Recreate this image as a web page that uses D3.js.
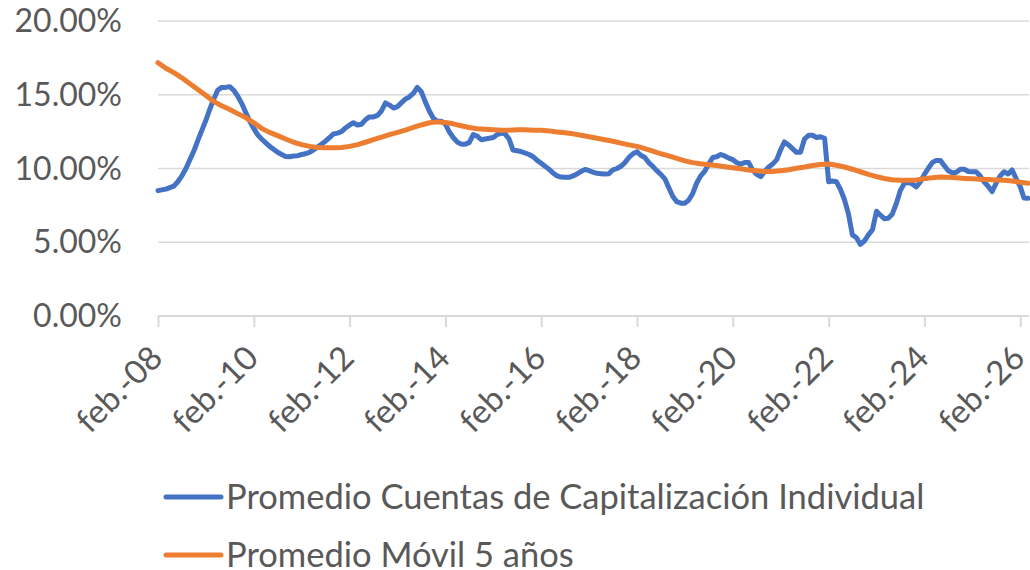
<!DOCTYPE html>
<html><head><meta charset="utf-8">
<script src="https://cdn.jsdelivr.net/npm/d3@7"></script>
<style>
body{margin:0;background:#fff}
svg{display:block}
text{font-family:Lato, "Open Sans", sans-serif; fill:#595959}
</style>
</head><body>
<svg id="chart" width="1030" height="570"></svg>
<script>
// ---- data ----
const seriesNames = ["Promedio Cuentas de Capitalización Individual", "Promedio Móvil 5 años"];
const seriesColors = ["#4472C4", "#ED7D31"];
// monthly values (%), from feb-08
const cuentas = [
  8.5, 8.55, 8.6, 8.7, 8.8, 9.1, 9.5, 10.0, 10.6, 11.2, 11.9, 12.6,
  13.3, 14.0, 14.7, 15.3, 15.5, 15.5, 15.55, 15.3, 14.9, 14.4, 13.8, 13.2,
  12.7, 12.3, 12.0, 11.75, 11.5, 11.3, 11.1, 10.95, 10.82, 10.8, 10.85, 10.87,
  10.95, 11.0, 11.1, 11.25, 11.45, 11.65, 11.85, 12.1, 12.35, 12.4, 12.5, 12.75,
  12.95, 13.1, 12.95, 13.0, 13.3, 13.5, 13.5, 13.6, 13.9, 14.45, 14.3, 14.1,
  14.2, 14.45, 14.7, 14.85, 15.1, 15.5, 15.2, 14.5, 13.9, 13.4, 13.2, 13.2,
  13.0, 12.5, 12.1, 11.8, 11.65, 11.65, 11.75, 12.3, 12.2, 11.95, 12.0, 12.05,
  12.1, 12.3, 12.4, 12.35, 12.0, 11.25, 11.2, 11.15, 11.05, 10.95, 10.8, 10.55,
  10.35, 10.15, 9.95, 9.7, 9.5, 9.42, 9.4, 9.4, 9.5, 9.63, 9.8, 9.94,
  9.85, 9.75, 9.67, 9.65, 9.63, 9.65, 9.9, 10.0, 10.15, 10.4, 10.75, 11.0,
  11.14, 10.9, 10.75, 10.4, 10.15, 9.85, 9.6, 9.3, 8.7, 8.1, 7.75, 7.65,
  7.65, 7.85, 8.3, 9.0, 9.5, 9.8, 10.3, 10.75, 10.8, 10.95, 10.85, 10.7,
  10.6, 10.4, 10.3, 10.4, 10.4, 9.9, 9.6, 9.45, 9.8, 10.1, 10.3, 10.6,
  11.3, 11.8, 11.6, 11.35, 11.1, 11.1, 12.0, 12.25, 12.25, 12.1, 12.15, 12.05,
  9.1, 9.15, 9.1, 8.6, 7.9, 6.96, 5.5, 5.3, 4.85, 5.1, 5.5, 5.85,
  7.1, 6.85, 6.6, 6.62, 6.9, 7.6, 8.5, 9.0, 9.05, 8.95, 8.75, 9.1,
  9.6, 10.0, 10.4, 10.55, 10.55, 10.2, 9.85, 9.7, 9.75, 9.95, 9.95, 9.8,
  9.78, 9.78, 9.5, 9.1, 8.8, 8.43, 9.0, 9.5, 9.78, 9.63, 9.9, 9.3,
  8.77, 8.0, 7.98
];
// values (%) every two months, from feb-08
const movil = [
  17.17, 16.8, 16.5, 16.15, 15.75, 15.35, 14.95, 14.55, 14.25, 14.0,
  13.72, 13.45, 13.1, 12.72, 12.45, 12.23, 12.0, 11.78, 11.62, 11.5,
  11.43, 11.4, 11.4, 11.42, 11.5, 11.62, 11.78, 11.95, 12.12, 12.3,
  12.45, 12.6, 12.78, 12.95, 13.1, 13.16, 13.12, 13.03, 12.9, 12.78,
  12.7, 12.66, 12.63, 12.6, 12.6, 12.62, 12.62, 12.6, 12.6, 12.55,
  12.48, 12.42, 12.35, 12.25, 12.15, 12.05, 11.95, 11.85, 11.72, 11.6,
  11.5, 11.35, 11.18, 11.0, 10.85, 10.68, 10.52, 10.4, 10.32, 10.26,
  10.2, 10.12, 10.05, 9.98, 9.9, 9.85, 9.8, 9.8, 9.85, 9.92,
  10.02, 10.1, 10.2, 10.27, 10.3, 10.22, 10.1, 9.95, 9.78, 9.6,
  9.45, 9.32, 9.24, 9.2, 9.2, 9.22, 9.3, 9.38, 9.42, 9.4,
  9.37, 9.33, 9.3, 9.27, 9.25, 9.22, 9.2, 9.15, 9.07, 9.0
];
const yTicks = [0, 5, 10, 15, 20];
const xTickLabels = ["feb.-08","feb.-10","feb.-12","feb.-14","feb.-16","feb.-18","feb.-20","feb.-22","feb.-24","feb.-26"];
const xTickYears = [2008,2010,2012,2014,2016,2018,2020,2022,2024,2026];
const startDate = new Date(2008, 1, 1);
const endDate = new Date(2026, 3, 1);

// ---- chart ----
const svg = d3.select("#chart");
const x = d3.scaleTime().domain([startDate, endDate]).range([158, 1028]);
const y = d3.scaleLinear().domain([0, 20]).range([316, 21]);

// gridlines
svg.append("g").selectAll("line").data(yTicks.filter(d => d > 0)).join("line")
  .attr("x1", 158).attr("x2", 1029)
  .attr("y1", d => y(d)).attr("y2", d => y(d))
  .attr("stroke", "#d9d9d9").attr("stroke-width", 1.5);

// y labels
svg.append("g").selectAll("text").data(yTicks).join("text")
  .attr("x", 122).attr("y", d => y(d)).attr("dy", "0.35em")
  .attr("text-anchor", "end").attr("font-size", 32)
  .text(d => d.toFixed(2) + "%");

// x axis
const tickDates = xTickYears.map(yr => new Date(yr, 1, 1));
const xAxis = d3.axisBottom(x).tickValues(tickDates).tickSize(11).tickFormat((d, i) => xTickLabels[i]);
const gx = svg.append("g").attr("transform", "translate(0,316)").call(xAxis);
gx.select(".domain").attr("stroke", "#d9d9d9").attr("stroke-width", 2).attr("d", "M158,0H1029");
gx.selectAll(".tick line").attr("stroke", "#d9d9d9").attr("stroke-width", 2);
gx.selectAll(".tick text")
  .attr("fill", "#595959").attr("font-size", 33).attr("font-family", "Lato, sans-serif")
  .attr("text-anchor", "end").attr("dy", null).attr("y", null)
  .attr("transform", "translate(6,44) rotate(-45)");

// lines
const cuentasData = cuentas.map((v, i) => ({date: d3.timeMonth.offset(startDate, i), v}));
const movilData = movil.map((v, i) => ({date: d3.timeMonth.offset(startDate, 2 * i), v}));
const line = d3.line().x(d => x(d.date)).y(d => y(d.v));
svg.append("path").datum(cuentasData).attr("d", line)
  .attr("fill", "none").attr("stroke", seriesColors[0]).attr("stroke-width", 5)
  .attr("stroke-linejoin", "round").attr("stroke-linecap", "round");
svg.append("path").datum(movilData).attr("d", line)
  .attr("fill", "none").attr("stroke", seriesColors[1]).attr("stroke-width", 5)
  .attr("stroke-linejoin", "round").attr("stroke-linecap", "round");

// legend
const legendY = [497, 555];
const lg = svg.append("g");
seriesNames.forEach((name, i) => {
  lg.append("line").attr("x1", 166).attr("x2", 221).attr("y1", legendY[i]).attr("y2", legendY[i])
    .attr("stroke", seriesColors[i]).attr("stroke-width", 5).attr("stroke-linecap", "round");
  lg.append("text").attr("x", 226).attr("y", legendY[i]).attr("dy", "0.35em")
    .attr("font-size", 34.5).text(name);
});
</script>
</body></html>
